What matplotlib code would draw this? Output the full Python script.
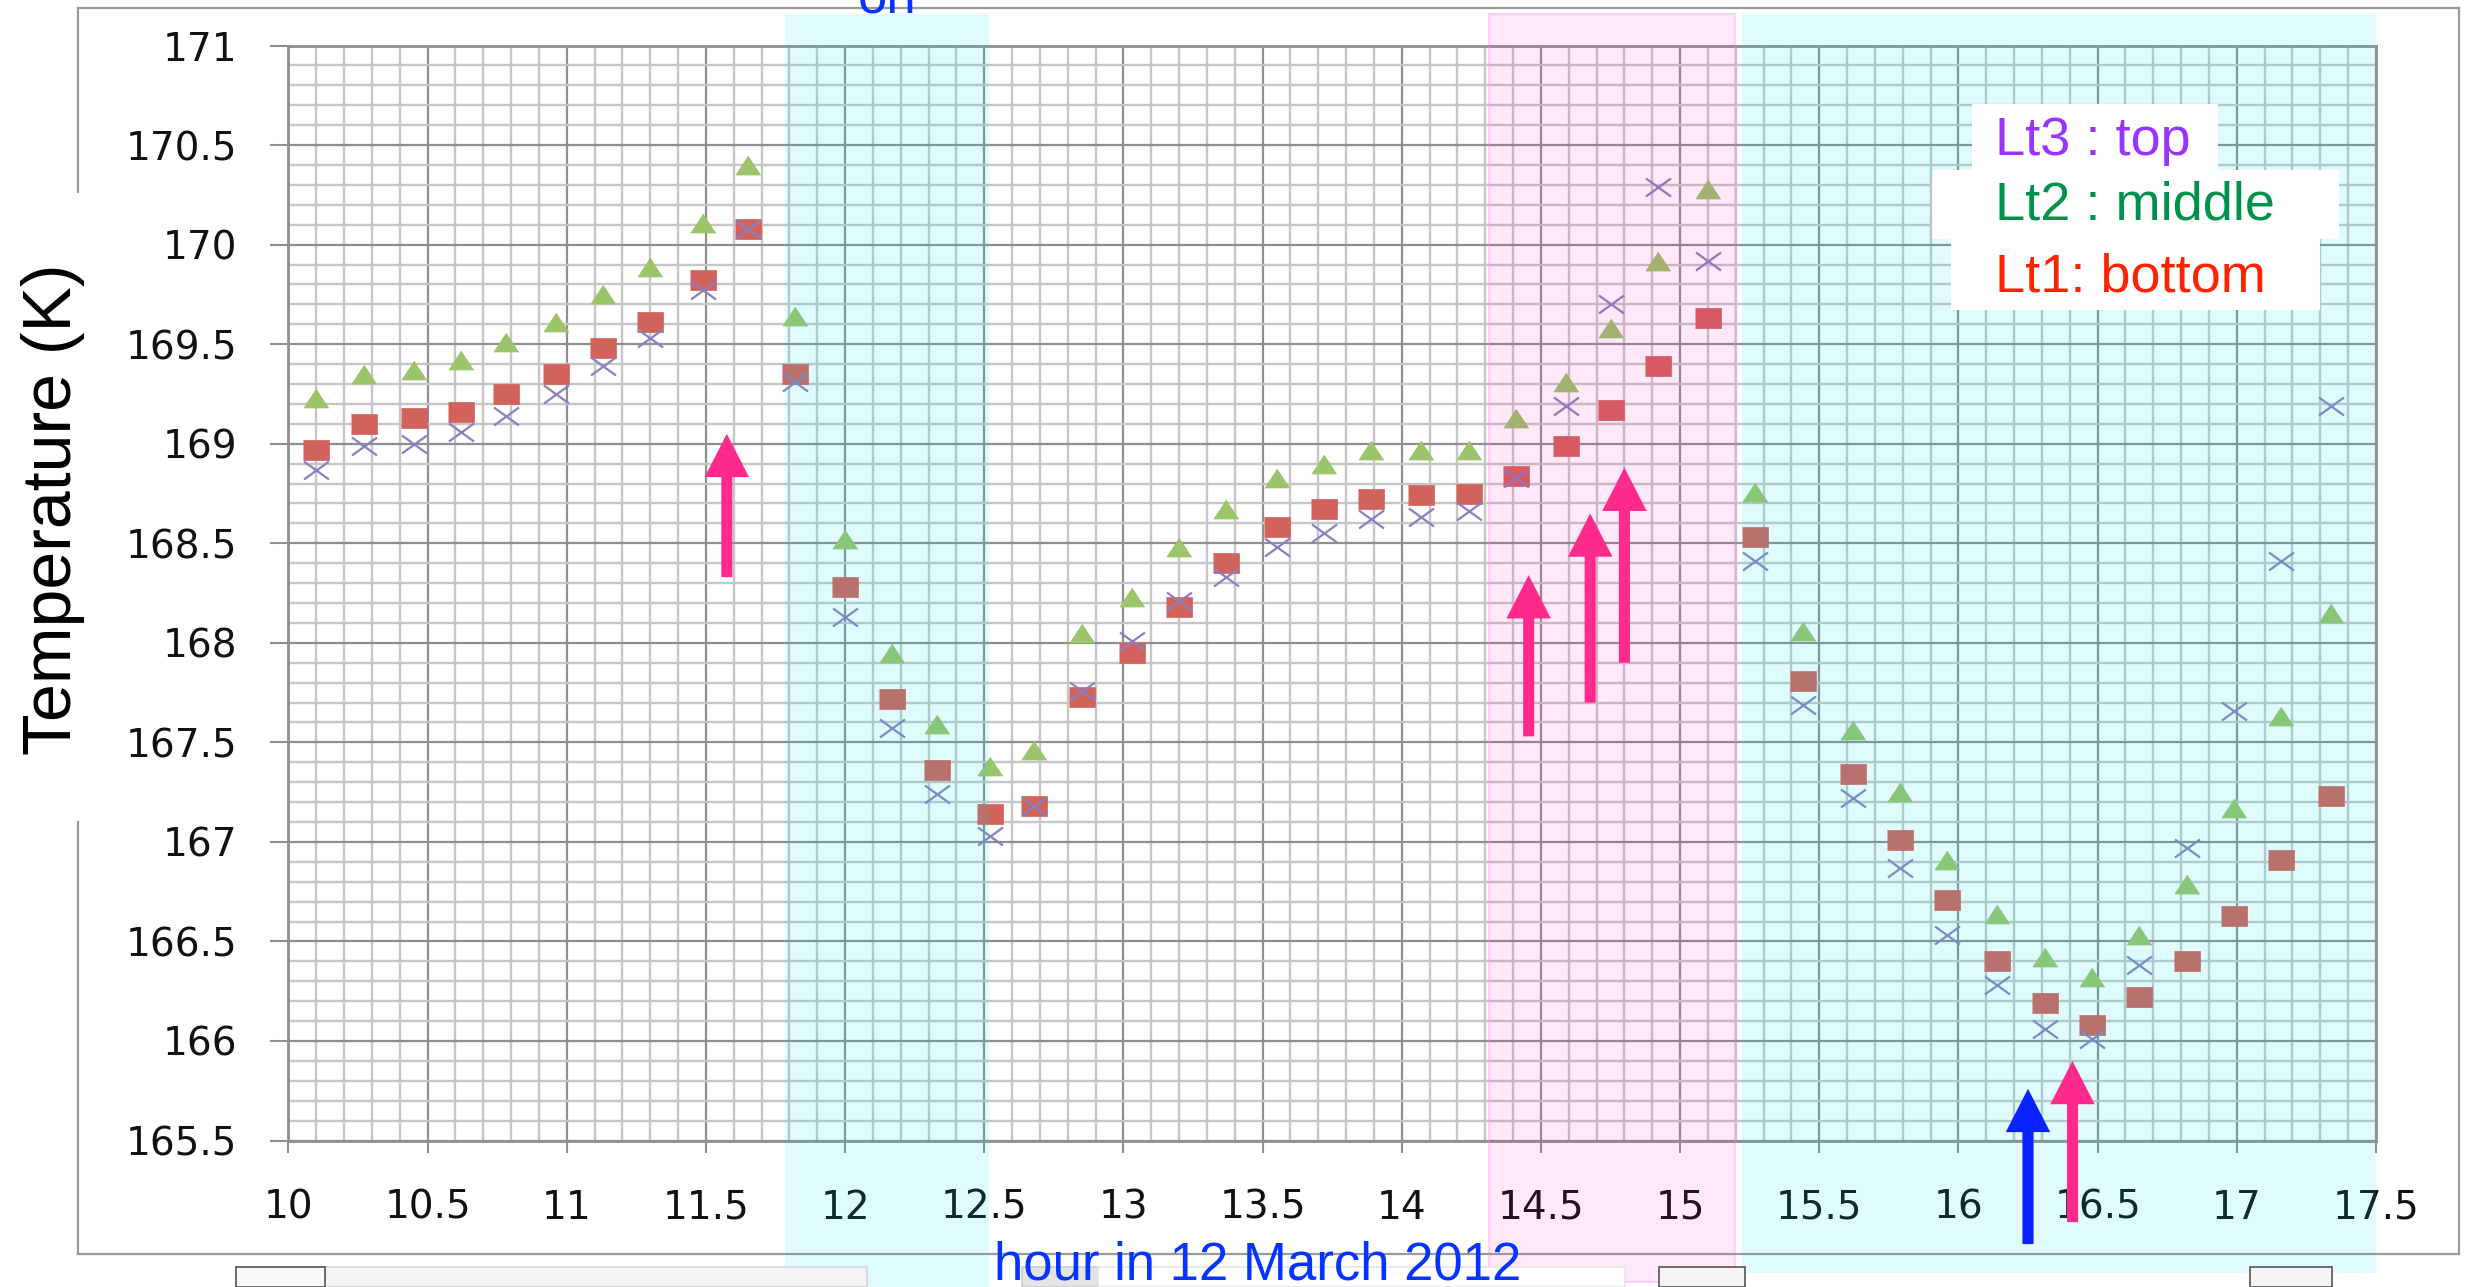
import matplotlib
matplotlib.use("Agg")
import matplotlib.pyplot as plt
from matplotlib.patches import Rectangle
from matplotlib.lines import Line2D
from matplotlib.path import Path
from matplotlib.ticker import MultipleLocator, FormatStrFormatter
import matplotlib.transforms as mtransforms

# hour of day (12 March 2012)
hours = [10.10, 10.27, 10.45, 10.62, 10.78, 10.96, 11.13, 11.30, 11.49, 11.65,
         11.82, 12.00, 12.17, 12.33, 12.52, 12.68, 12.85, 13.03, 13.20, 13.37,
         13.55, 13.72, 13.89, 14.07, 14.24, 14.41, 14.59, 14.75, 14.92, 15.10,
         15.27, 15.44, 15.62, 15.79, 15.96, 16.14, 16.31, 16.48, 16.65, 16.82,
         16.99, 17.16, 17.34]

# Lt1 : bottom (squares)
lt1_bottom = [168.97, 169.10, 169.13, 169.16, 169.25, 169.35, 169.48, 169.61, 169.82, 170.08,
              169.35, 168.28, 167.72, 167.36, 167.14, 167.18, 167.73, 167.95, 168.18, 168.40,
              168.58, 168.67, 168.72, 168.74, 168.75, 168.84, 168.99, 169.17, 169.39, 169.63,
              168.53, 167.81, 167.34, 167.01, 166.71, 166.40, 166.19, 166.08, 166.22, 166.40,
              166.63, 166.91, 167.23]

# Lt2 : middle (triangles)
lt2_middle = [169.23, 169.35, 169.37, 169.42, 169.51, 169.61, 169.75, 169.89, 170.11, 170.40,
              169.64, 168.52, 167.95, 167.59, 167.38, 167.46, 168.05, 168.23, 168.48, 168.67,
              168.83, 168.90, 168.97, 168.97, 168.97, 169.13, 169.31, 169.58, 169.92, 170.28,
              168.76, 168.06, 167.56, 167.25, 166.91, 166.64, 166.42, 166.32, 166.53, 166.79,
              167.17, 167.63, 168.15]

# Lt3 : top (crosses)
lt3_top = [168.87, 168.99, 169.00, 169.06, 169.14, 169.25, 169.39, 169.53, 169.77, 170.08,
           169.31, 168.13, 167.57, 167.24, 167.03, 167.18, 167.76, 168.01, 168.21, 168.33,
           168.48, 168.55, 168.62, 168.63, 168.66, 168.83, 169.19, 169.70, 170.29, 169.92,
           168.41, 167.69, 167.22, 166.87, 166.53, 166.28, 166.06, 166.01, 166.38, 166.97,
           167.66, 168.41, 169.19]

# shaded periods (hours)
cyan_spans = [(11.785, 12.517), (15.221, 17.5)]
pink_span = (14.314, 15.198)

# arrows: x, tail, tip, colour
arrow_x = [11.575, 14.456, 14.677, 14.80, 16.41, 16.25]
arrow_tail = [168.33, 167.53, 167.70, 167.90, 165.09, 164.98]
arrow_tip = [169.05, 168.34, 168.65, 168.88, 165.90, 165.76]
arrow_col = ["#ff2b8c"] * 5 + ["#0a22ff"]

legend_items = [("Lt3 : top", "#9933ff"), ("Lt2 : middle", "#00924a"), ("Lt1: bottom", "#ff2200")]

W, H = 2470, 1287
fig = plt.figure(figsize=(W / 100, H / 100), dpi=100)
fig.patch.set_facecolor("white")


def fx(px):
    return px / W


def fy(py):
    return 1 - py / H


ax = fig.add_axes([0.1168, 0.1138, 0.9619 - 0.1168, 0.9646 - 0.1138])
ax.set_xlim(10, 17.5)
ax.set_ylim(165.5, 171)

ax.xaxis.set_major_locator(MultipleLocator(0.5))
ax.xaxis.set_minor_locator(MultipleLocator(0.1))
ax.yaxis.set_major_locator(MultipleLocator(0.5))
ax.yaxis.set_minor_locator(MultipleLocator(0.1))
ax.xaxis.set_major_formatter(FormatStrFormatter("%g"))
ax.yaxis.set_major_formatter(FormatStrFormatter("%g"))

ax.grid(which="minor", color="#c6c6c6", lw=1.7)
ax.grid(which="major", color="#8f8f8f", lw=1.6)
ax.tick_params(which="minor", length=0)
ax.tick_params(axis="x", which="major", length=8.6, width=1.5, color="#8f8f8f",
               pad=26, labelsize=28, labelcolor="#111111")
ax.tick_params(axis="y", which="major", length=13, width=1.5, color="#8f8f8f",
               pad=24, labelsize=28, labelcolor="#111111")
for s in ax.spines.values():
    s.set_color("#8f8f8f")
    s.set_linewidth(2)

# marker shapes (source image is stretched horizontally)
sq_marker = [(-1.3, -1), (1.3, -1), (1.3, 1), (-1.3, 1)]
tri_marker = [(0, 0.76), (-1, -0.76), (1, -0.76)]
x_marker = Path([(-1, -0.72), (1, 0.72), (-1, 0.72), (1, -0.72)],
                [Path.MOVETO, Path.LINETO, Path.MOVETO, Path.LINETO])

ax.plot(hours, lt1_bottom, ls="none", marker=sq_marker, ms=18.7,
        mfc="#d2625c", mec="#d2625c", mew=0.5, zorder=2)
ax.plot(hours, lt2_middle, ls="none", marker=tri_marker, ms=18,
        mfc="#9bc46b", mec="#9bc46b", mew=0.5, zorder=2.1)
ax.plot(hours, lt3_top, ls="none", marker=x_marker, ms=18,
        mfc="none", mec="#8a80c0", mew=1.6, zorder=2.2)

# translucent overlays reaching beyond the axes
trans = mtransforms.blended_transform_factory(ax.transData, fig.transFigure)
cyan_bottoms = [0.0, 1 - 1273 / H]
for (x0, x1), yb in zip(cyan_spans, cyan_bottoms):
    ax.add_artist(Rectangle((x0, yb), x1 - x0, fy(14) - yb, transform=trans,
                            facecolor=(0.0, 0.88, 0.93, 0.12), edgecolor="none",
                            clip_on=False, zorder=3))
yb = 1 - 1282 / H
ax.add_artist(Rectangle((pink_span[0], yb), pink_span[1] - pink_span[0], fy(14) - yb,
                        transform=trans, facecolor=(1.0, 0.0, 0.69, 0.09),
                        edgecolor=(1.0, 0.55, 0.95, 0.35), lw=1.5,
                        clip_on=False, zorder=3))

# arrows
for x, y0, y1, c in zip(arrow_x, arrow_tail, arrow_tip, arrow_col):
    ax.annotate("", xy=(x, y1), xytext=(x, y0), annotation_clip=False,
                arrowprops=dict(arrowstyle="simple,head_length=0.78,head_width=0.8,tail_width=0.2",
                                mutation_scale=40, color=c, lw=0, shrinkA=0, shrinkB=0),
                zorder=4)

# label boxes
boxes = [(1972, 104, 2218, 170), (1932, 170, 2339, 239), (1951, 239, 2320, 310)]
for (x0, y0, x1, y1) in boxes:
    fig.add_artist(Rectangle((fx(x0), fy(y1)), fx(x1) - fx(x0), fy(y0) - fy(y1),
                             transform=fig.transFigure, facecolor="white",
                             edgecolor="none", zorder=5))
for (txt, c), yc in zip(legend_items, [141, 206, 278]):
    fig.text(fx(1995), fy(yc), txt, color=c, fontsize=39, family="Liberation Sans",
             ha="left", va="center", zorder=6)

# outer frame with a gap behind the y label
frame_col = "#9a9a9a"
segs = [((78, 8), (2459, 8)), ((2459, 8), (2459, 1254)), ((78, 1254), (2459, 1254)),
        ((78, 8), (78, 192)), ((78, 822), (78, 1254))]
for (a, b) in segs:
    fig.add_artist(Line2D([fx(a[0]), fx(b[0])], [fy(a[1]), fy(b[1])],
                          transform=fig.transFigure, color=frame_col, lw=1.6, zorder=4.5))

fig.text(fx(53), fy(509), "Temperature (K)", rotation=90, fontsize=49,
         family="Liberation Sans", ha="center", va="center", color="black")
fig.text(fx(1258), fy(1279), "hour in 12 March 2012", fontsize=38,
         family="Liberation Sans", ha="center", va="baseline", color="#0533ff", zorder=6)
# partly cut off at the top edge, as in the original
fig.text(fx(887), fy(13), "on", fontsize=38, family="Liberation Sans",
         ha="center", va="baseline", color="#0533ff", zorder=6)

# bits of window chrome cut off at the bottom edge
chrome = [(236, 867, "#f4f4f4", "#d6d6d6"), (236, 325, "#fafafa", "#555555"),
          (1022, 1098, "#e4e4e4", "#cccccc"), (1098, 1625, "#ffffff", "#e6e6e6"),
          (1659, 1745, "#f4f4f4", "#555555"), (2250, 2332, "#f4f4f4", "#555555")]
for x0, x1, fc, ec in chrome:
    fig.add_artist(Rectangle((fx(x0), 0), fx(x1) - fx(x0), fy(1267), transform=fig.transFigure,
                             facecolor=fc, edgecolor=ec, lw=1.2, zorder=1))

fig.savefig("out.png", dpi=100)
